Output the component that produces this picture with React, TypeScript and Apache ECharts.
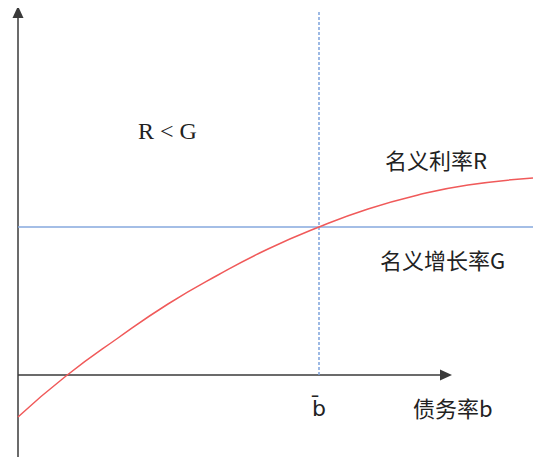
import React, { useEffect, useRef } from "react";
import * as echarts from "echarts";

// Data space: x = debt ratio (arbitrary units), y = rate (arbitrary units)
const xMin = 0;
const xMax = 515;
const yMin = -82;
const yMax = 365;
const xAxisEnd = 428;
const yAxisEnd = 363;
const bBar = 301;
const growthG = 148;
const rateX = [0, 48, 100, 150, 200, 250, 301, 350, 400, 450, 515];
const rateY = [-42, -1, 37, 71, 100, 126, 148, 166, 180, 190, 197];

export default function App() {
  const ref = useRef<HTMLDivElement>(null);
  useEffect(() => {
    const chart = echarts.init(ref.current!, null, { renderer: "svg" });
    const axisStyle = { color: "#3a3a3a", width: 1.5, type: "solid" as const };
    const cjk = '22px "Noto Sans CJK SC", sans-serif';
    chart.setOption({
      animation: false,
      grid: { left: 10, right: 9, top: 2, bottom: 8 },
      xAxis: { type: "value", min: xMin, max: xMax, show: false },
      yAxis: { type: "value", min: yMin, max: yMax, show: false },
      series: [
        {
          type: "line",
          name: "名义利率R",
          data: rateX.map((x, i) => [x, rateY[i]]),
          smooth: true,
          showSymbol: false,
          lineStyle: { color: "#f05a5a", width: 1.5 },
          z: 5,
          markLine: {
            silent: true,
            animation: false,
            label: { show: false },
            data: [
              [
                { coord: [0, yMin], symbol: "none", lineStyle: axisStyle },
                { coord: [0, yAxisEnd], symbol: "triangle", symbolSize: [11, 12] },
              ],
              [
                { coord: [0, 0], symbol: "none", lineStyle: axisStyle },
                { coord: [xAxisEnd, 0], symbol: "triangle", symbolSize: [11, 12] },
              ],
              [
                { coord: [0, growthG], symbol: "none", lineStyle: { color: "#86a9de", width: 1.5, type: "solid" } },
                { coord: [xMax, growthG], symbol: "none" },
              ],
              [
                { coord: [bBar, 0], symbol: "none", lineStyle: { color: "#7ea3dc", width: 1.5, type: [3, 2] } },
                { coord: [bBar, yMax], symbol: "none" },
              ],
            ],
          },
        },
      ],
      graphic: [
        { type: "text", left: 130, top: 111, style: { text: "R < G", font: '24px "Liberation Serif", serif', fill: "#222" } },
        { type: "text", left: 377, top: 140, style: { text: "名义利率R", font: cjk, fill: "#222" } },
        { type: "text", left: 372, top: 240, style: { text: "名义增长率G", font: cjk, fill: "#222" } },
        { type: "text", left: 405, top: 388, style: { text: "债务率b", font: cjk, fill: "#222" } },
        { type: "text", left: 304, top: 389, style: { text: "b\u0304", font: '22px "DejaVu Sans", sans-serif', fill: "#222" } },
      ],
    });
    return () => chart.dispose();
  }, []);
  return <div ref={ref} style={{ width: 534, height: 457 }} />;
}
